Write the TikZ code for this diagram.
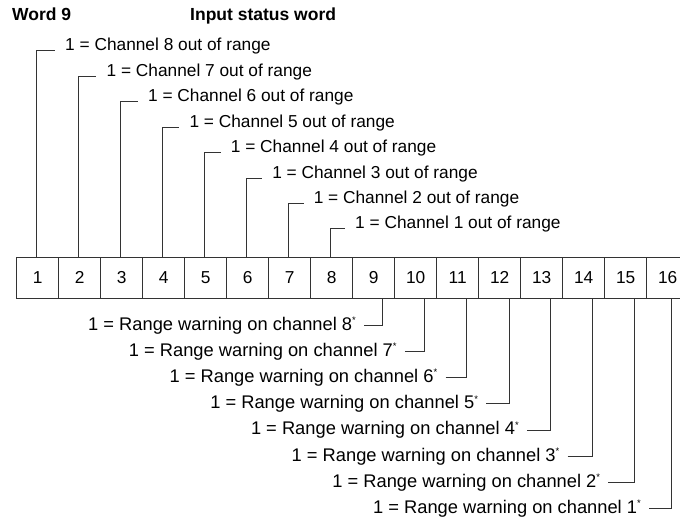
\documentclass[tikz,border=0pt]{standalone}
\usepackage{fontspec}
\setmainfont{Liberation Sans}
\usetikzlibrary{positioning}

\newcommand{\warnstar}{\raisebox{6.5pt}{\fontsize{9.5}{9.5}\selectfont *}}

\begin{document}
\begin{tikzpicture}[
    x=1pt, y=-1pt,
    every node/.style={font=\fontsize{17.3}{21}\selectfont},
    cell/.style={
        draw=black!80,
        line width=1pt,
        minimum width=42pt,
        minimum height=41pt,
        inner sep=0pt,
        outer sep=0pt
    },
    heading/.style={anchor=base west, inner sep=0pt, font=\fontsize{17.5}{21}\selectfont\bfseries},
    outlabel/.style={anchor=base west, inner xsep=10pt, inner ysep=0pt},
    warnlabel/.style={anchor=base west, inner xsep=8pt, font=\fontsize{18.3}{21}\selectfont},
    leader/.style={draw=black!80, line width=1pt}
]
\useasboundingbox (0,0) rectangle (680,519);
\clip (0,0) rectangle (680,519);

\node[heading] (word) at (12,21) {Word 9};
\node[heading] (status) at (190,21) {Input status word};

\node[cell] (b1) at (37.7,277.5) {1};
\node[cell, right=0pt of b1] (b2) {2};
\node[cell, right=0pt of b2] (b3) {3};
\node[cell, right=0pt of b3] (b4) {4};
\node[cell, right=0pt of b4] (b5) {5};
\node[cell, right=0pt of b5] (b6) {6};
\node[cell, right=0pt of b6] (b7) {7};
\node[cell, right=0pt of b7] (b8) {8};
\node[cell, right=0pt of b8] (b9) {9};
\node[cell, right=0pt of b9] (b10) {10};
\node[cell, right=0pt of b10] (b11) {11};
\node[cell, right=0pt of b11] (b12) {12};
\node[cell, right=0pt of b12] (b13) {13};
\node[cell, right=0pt of b13] (b14) {14};
\node[cell, right=0pt of b14] (b15) {15};
\node[cell, right=0pt of b15] (b16) {16};

\node[outlabel] (out8) at (55,51) {1 = Channel 8 out of range};
\node[outlabel] (out7) at (96.4,76.4) {1 = Channel 7 out of range};
\node[outlabel] (out6) at (137.9,101.8) {1 = Channel 6 out of range};
\node[outlabel] (out5) at (179.3,127.2) {1 = Channel 5 out of range};
\node[outlabel] (out4) at (220.7,152.6) {1 = Channel 4 out of range};
\node[outlabel] (out3) at (262.1,178) {1 = Channel 3 out of range};
\node[outlabel] (out2) at (303.6,203.4) {1 = Channel 2 out of range};
\node[outlabel] (out1) at (345,228.8) {1 = Channel 1 out of range};

\node[warnlabel] (warn8) at (80,330) {1 = Range warning on channel 8\warnstar};
\node[warnlabel] (warn7) at (120.7,356.2) {1 = Range warning on channel 7\warnstar};
\node[warnlabel] (warn6) at (161.4,382.4) {1 = Range warning on channel 6\warnstar};
\node[warnlabel] (warn5) at (202.1,408.6) {1 = Range warning on channel 5\warnstar};
\node[warnlabel] (warn4) at (242.8,434.8) {1 = Range warning on channel 4\warnstar};
\node[warnlabel] (warn3) at (283.5,461) {1 = Range warning on channel 3\warnstar};
\node[warnlabel] (warn2) at (324.2,487.2) {1 = Range warning on channel 2\warnstar};
\node[warnlabel] (warn1) at (364.9,513.4) {1 = Range warning on channel 1\warnstar};

\draw[leader] ([xshift=-1.5pt]b1.north) |- (out8.base west);
\draw[leader] ([xshift=-1.5pt]b2.north) |- (out7.base west);
\draw[leader] ([xshift=-1.5pt]b3.north) |- (out6.base west);
\draw[leader] ([xshift=-1.5pt]b4.north) |- (out5.base west);
\draw[leader] ([xshift=-1.5pt]b5.north) |- (out4.base west);
\draw[leader] ([xshift=-1.5pt]b6.north) |- (out3.base west);
\draw[leader] ([xshift=-1.5pt]b7.north) |- (out2.base west);
\draw[leader] ([xshift=-1.5pt]b8.north) |- (out1.base west);

\draw[leader] (warn8.east) -| ([xshift=8.5pt]b9.south);
\draw[leader] (warn7.east) -| ([xshift=8.5pt]b10.south);
\draw[leader] (warn6.east) -| ([xshift=8.5pt]b11.south);
\draw[leader] (warn5.east) -| ([xshift=10pt]b12.south);
\draw[leader] (warn4.east) -| ([xshift=9pt]b13.south);
\draw[leader] (warn3.east) -| ([xshift=9pt]b14.south);
\draw[leader] (warn2.east) -| ([xshift=9pt]b15.south);
\draw[leader] (warn1.east) -| ([xshift=3.5pt]b16.south);

\end{tikzpicture}
\end{document}
